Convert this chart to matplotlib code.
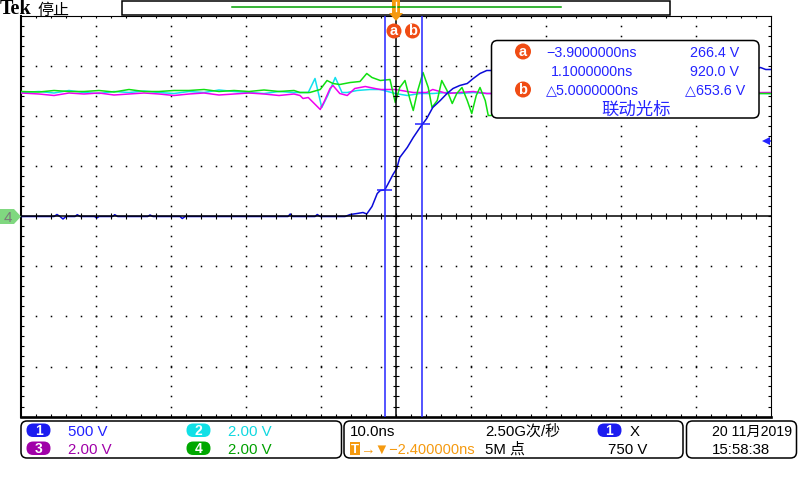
import numpy as np
import matplotlib.pyplot as plt
from matplotlib.patches import FancyBboxPatch, Circle, Polygon, Rectangle

plt.rcParams['font.family'] = ['Liberation Sans', 'DejaVu Sans', 'Noto Sans CJK SC']

# scope settings
ns_per_div = 10.0
h_pos = -2.4            # ns at screen centre
ch1_scale = 500.0       # V/div
trig_level = 750.0      # V on ch1
scale_labels = ['500 V', '2.00 V', '2.00 V', '2.00 V']
sample_rate = '2.50G次/秒'
record_len = '5M 点'
date_str = '20 11月2019'
time_str = '15:58:38'

# cursors: (time ns, ch1 volts)
cur_a = (-3.9, 266.4)
cur_b = (1.1, 920.0)

# shared time points for the flat noisy part
noise_t = [-52.4, -50, -48, -46, -44, -42, -40, -38, -36, -34,
           -32, -30, -28, -26, -24, -22, -20, -18, -16]

# ch1 (blue), volts
ch1_t = [-52.4, -48.0, -47.6, -47.2, -46.8, -46.4, -45.2, -44.9, -44.5, -42.6,
         -42.3, -42.0, -40.2, -39.9, -39.5, -35.5, -35.2, -34.8, -31.2, -30.9,
         -30.5, -16.8, -16.5, -16.2, -13.2, -12.9, -12.5, -9.2, -8.5, -7.6,
         -6.8, -6.3, -5.6, -4.9, -4.5, -3.9, -3.5, -2.8, -2.3, -1.9,
         -0.9, -0.1, 0.8, 1.7, 2.5, 3.5, 4.4, 5.2, 6.1, 7.1,
         7.9, 8.8, 9.7, 10.3, 14, 25, 35, 45.5, 46.2, 46.9, 47.6]
ch1_v = [0, 0, 20, 0, -25, 0, 0, 18, 0, 0,
         -15, 0, 0, 18, 0, 0, 15, 0, 0, -20,
         0, 0, 25, 0, 0, 20, 0, 0, 20, 30,
         40, 25, 100, 230, 260, 266, 320, 420, 480, 590,
         690, 790, 890, 980, 1090, 1160, 1230, 1280, 1310, 1330,
         1380, 1430, 1460, 1460, 1470, 1480, 1470, 1470, 1490, 1470, 1470]

# ch2 (cyan), screen divisions
ch2_t = noise_t + [-15.2, -14.1, -13.2, -12.3, -11.5, -10.5, -9.6, -8.9, -7.6, -5.9,
                   -4.5, -2.5, -0.9, 0.8, 2.5, 4.4, 6.1, 7.9, 9.7, 10.3,
                   20, 30, 40, 47.6]
ch2_d = [2.48, 2.50, 2.47, 2.52, 2.48, 2.46, 2.50, 2.48, 2.51, 2.48,
         2.46, 2.50, 2.48, 2.53, 2.50, 2.48, 2.46, 2.50, 2.48,
         2.48, 2.48, 2.76, 2.18, 2.42, 2.78, 2.48, 2.48, 2.52, 2.54,
         2.54, 2.46, 2.42, 2.46, 2.46, 2.48, 2.46, 2.48, 2.46, 2.46,
         2.47, 2.46, 2.47, 2.46]

# ch3 (magenta), screen divisions
ch3_t = noise_t + [-15.2, -14.8, -14.1, -12.5, -11.9, -11.2, -10.8, -9.9, -8.9, -7.9,
                   -6.5, -5.2, -4.5, -2.5, -0.1, 1.7, 2.5, 4.4, 6.1, 7.9,
                   9.7, 10.3, 20, 30, 40, 47.6]
ch3_d = [2.47, 2.45, 2.42, 2.47, 2.45, 2.47, 2.43, 2.45, 2.47, 2.45,
         2.42, 2.45, 2.47, 2.43, 2.45, 2.47, 2.45, 2.42, 2.45,
         2.42, 2.36, 2.38, 2.14, 2.32, 2.56, 2.62, 2.46, 2.42, 2.56,
         2.60, 2.56, 2.54, 2.54, 2.48, 2.48, 2.54, 2.46, 2.48, 2.50,
         2.46, 2.46, 2.47, 2.46, 2.47, 2.48]

# ch4 (green), screen divisions
ch4_t = noise_t + [-15.2, -13.9, -12.5, -11.6, -10.8, -9.9, -8.5, -7.2, -6.3, -5.6,
                   -4.5, -3.2, -2.5, -1.9, -1.2, -0.5, -0.1, 0.5, 1.2, 1.9,
                   2.4, 3.1, 3.7, 4.4, 5.1, 5.7, 6.4, 7.1, 7.7, 8.3,
                   8.8, 9.5, 9.9, 10.3, 12, 14, 16, 20, 30, 40, 45, 47.6]
ch4_d = [2.50, 2.49, 2.52, 2.50, 2.50, 2.52, 2.49, 2.54, 2.50, 2.50,
         2.52, 2.52, 2.54, 2.50, 2.52, 2.50, 2.53, 2.50, 2.52,
         2.48, 2.48, 2.54, 2.72, 2.66, 2.64, 2.68, 2.70, 2.86, 2.78,
         2.72, 2.74, 2.28, 2.58, 2.72, 2.32, 2.12, 2.52, 2.88, 2.58,
         2.18, 2.32, 2.72, 2.52, 2.26, 2.46, 2.58, 2.32, 2.06, 2.42,
         2.58, 2.32, 2.02, 2.02, 2.40, 2.60, 2.40, 2.50, 2.48, 2.46, 2.46, 2.46]

BLUE_TR = '#0a0ad8'
BLUE = '#2424ff'
CYAN = '#10e0ee'
MAGENTA = '#f000f0'
GREEN_TR = '#10e010'
ORANGE_RED = '#f04c14'
ORANGE = '#f59a10'


def tx(t):
    return (np.asarray(t, dtype=float) - h_pos) / ns_per_div


W, H = 800, 480
fig = plt.figure(figsize=(W / 100, H / 100), dpi=100)
fig.patch.set_facecolor('white')

# main graticule: 10 x 8 divisions
ax = fig.add_axes([21 / W, 1 - 416.5 / H, 750 / W, 400 / H])
ax.set_xlim(-5, 5)
ax.set_ylim(-4, 4)
ax.set_xticks([])
ax.set_yticks([])
ax.spines['left'].set_linewidth(1.5)
ax.spines['bottom'].set_linewidth(1.9)
ax.spines['top'].set_linewidth(0.8)
ax.spines['right'].set_linewidth(0.8)

# dotted grid
for gx in [-4, -3, -2, -1, 1, 2, 3, 4]:
    ys = np.arange(-3.8, 3.81, 0.2)
    ax.plot(np.full_like(ys, gx), ys, ls='none', marker='s', ms=1.1, mew=0, color='k')
for gy in [-3, -2, -1, 1, 2, 3]:
    xs = np.arange(-4.8, 4.81, 0.2)
    ax.plot(xs, np.full_like(xs, gy), ls='none', marker='s', ms=1.1, mew=0, color='k')

# edge ticks
tk_x = np.arange(-4.8, 4.81, 0.2)
tk_y = np.arange(-3.8, 3.81, 0.2)
ax.vlines(tk_x, -4, -3.94, color='k', lw=0.8)
ax.vlines(tk_x, 3.96, 4, color='k', lw=0.8)
ax.hlines(tk_y, -5, -4.96, color='k', lw=0.8)
ax.hlines(tk_y, 4.96, 5, color='k', lw=0.8)

# traces
ax.plot(tx(ch2_t), ch2_d, color=CYAN, lw=1.1, zorder=3)
ax.plot(tx(ch3_t), ch3_d, color=MAGENTA, lw=1.1, zorder=3)
ax.plot(tx(ch4_t), ch4_d, color=GREEN_TR, lw=1.1, zorder=3)
ax.plot(tx(ch1_t), np.asarray(ch1_v) / ch1_scale, color=BLUE_TR, lw=1.1, zorder=3)

# centre cross with ticks
ax.axhline(0, color='k', lw=1.1, zorder=4)
ax.axvline(0, color='k', lw=1.1, zorder=4)
ax.vlines(tk_x, -0.06, 0.06, color='k', lw=0.8, zorder=4)
ax.hlines(tk_y, -0.035, 0.035, color='k', lw=0.8, zorder=4)

# cursors
for ct, cv in (cur_a, cur_b):
    ax.axvline(tx(ct), color=BLUE, lw=1.1, zorder=5)
    ax.hlines(cv / ch1_scale, tx(ct) - 0.1, tx(ct) + 0.1, color=BLUE, lw=1.1, zorder=5)

# trigger level marker on the right edge
ax.plot([4.93], [trig_level / ch1_scale], marker='<', ms=6, color=BLUE, mew=0, zorder=5, clip_on=False)
ax.hlines(trig_level / ch1_scale, 4.93, 5, color=BLUE, lw=1.1, zorder=5)

# overlay in screen pixels
ov = fig.add_axes([0, 0, 1, 1], zorder=5)
ov.set_xlim(0, W)
ov.set_ylim(H, 0)
ov.set_axis_off()

# header
ov.text(0, 14.5, 'Tek', fontfamily='Liberation Serif', fontweight='bold', fontsize=14.5, ha='left', va='baseline')
ov.text(37, 14.5, '停止', fontfamily=['Noto Sans CJK SC', 'DejaVu Sans'], fontsize=11.5, ha='left', va='baseline')
ov.add_patch(Rectangle((122, 0.5), 548, 14.5, fc='white', ec='k', lw=1.1))
ov.plot([232, 561], [7, 7], color='#00a000', lw=1.1)

# trigger position marker
ov.add_patch(Polygon([(392, 0), (400, 0), (400, 13), (403, 13), (396, 21), (389, 13), (392, 13)],
                     closed=True, fc=ORANGE, ec='none'))
ov.plot([396, 396], [2, 11], color='white', lw=1.0)

# cursor labels near the top
for cx, lab in ((394, 'a'), (412.5, 'b')):
    ov.add_patch(Circle((cx, 31), 7.5, fc=ORANGE_RED, ec='none'))
    ov.text(cx, 35, lab, color='white', fontsize=10.5, fontweight='bold', ha='center', va='baseline')

# channel 4 ground marker
ov.add_patch(Polygon([(0, 209), (14, 209), (21, 216.5), (14, 224), (0, 224)], closed=True,
                     fc='#80d880', ec='none'))
ov.text(7.5, 222, '4', color='#7a7a7a', fontsize=11, ha='center', va='baseline')

# cursor readout box
ov.add_patch(FancyBboxPatch((491.5, 40.5), 267.5, 77.5, boxstyle='round,pad=0,rounding_size=6',
                            fc='white', ec='k', lw=1.1))
for cy, lab in ((51.5, 'a'), (89.5, 'b')):
    ov.add_patch(Circle((523, cy), 8, fc=ORANGE_RED, ec='none'))
    ov.text(523, cy + 4.2, lab, color='white', fontsize=10.5, fontweight='bold', ha='center', va='baseline')

dt = cur_b[0] - cur_a[0]
dv = cur_b[1] - cur_a[1]
rows = [(56.7, f'{cur_a[0]:.7f}ns'.replace('-', '−'), f'{cur_a[1]:.1f} V'),
        (76.0, f'{cur_b[0]:.7f}ns', f'{cur_b[1]:.1f} V'),
        (94.3, f'△{dt:.7f}ns', f'△{dv:.1f} V')]
for by, ts, vs in rows:
    ov.text(592, by, ts, color=BLUE, fontsize=10.3, ha='center', va='baseline')
    ov.text(715, by, vs, color=BLUE, fontsize=10.3, ha='center', va='baseline')
ov.text(636, 114.5, '联动光标', color=BLUE, fontsize=12.5,
        fontfamily=['Noto Sans CJK SC', 'DejaVu Sans'], ha='center', va='baseline')

# bottom status boxes
for bx, bw in ((21, 320.5), (344, 339), (686.5, 110)):
    ov.add_patch(FancyBboxPatch((bx, 421), bw, 37, boxstyle='round,pad=0,rounding_size=6',
                                fc='white', ec='k', lw=1.1))


def pill(x, y, color, label):
    ov.add_patch(FancyBboxPatch((x, y), 24, 13.5, boxstyle='round,pad=0,rounding_size=6.7',
                                fc=color, ec='none'))
    ov.text(x + 12, y + 11.5, label, color='white', fontsize=10, fontweight='bold',
            ha='center', va='baseline')


pill_cols = ['#1c1cf0', '#10e0e6', '#a000a8', '#00a800']
text_cols = ['#2020ff', '#10d8e0', '#a000a8', '#00a000']
pos = [(26.5, 423.5, 67.5, 436), (186.5, 423.5, 228, 436),
       (26.5, 441.5, 67.5, 454), (186.5, 441.5, 228, 454)]
for i, (px, py, lx, ly) in enumerate(pos):
    pill(px, py, pill_cols[i], str(i + 1))
    ov.text(lx, ly, scale_labels[i], color=text_cols[i], fontsize=10.8, ha='left', va='baseline')

ov.text(349.5, 436, f'{ns_per_div:.1f}ns', color='k', fontsize=10.8, ha='left', va='baseline')
ov.add_patch(Rectangle((349.5, 442), 10.5, 12.5, fc=ORANGE, ec='none'))
ov.text(354.7, 452.8, 'T', color='white', fontsize=9.5, fontweight='bold', ha='center', va='baseline')
ov.text(360.5, 454, f'→▼{h_pos:.6f}ns'.replace('-', '−'), color=ORANGE, fontsize=10.5,
        ha='left', va='baseline')
ov.text(485, 436, sample_rate, color='k', fontsize=10.8, ha='left', va='baseline')
ov.text(485, 454, record_len, color='k', fontsize=10.8, ha='left', va='baseline')
pill(597.5, 423.5, '#1c1cf0', '1')
ov.text(630, 436, 'X', color='k', fontsize=10.8, ha='left', va='baseline')
ov.text(608.5, 454, f'{trig_level:.0f} V', color='k', fontsize=10.8, ha='left', va='baseline')
ov.text(711.5, 436, date_str, color='k', fontsize=10.2, ha='left', va='baseline')
ov.text(711.5, 454, time_str, color='k', fontsize=10.8, ha='left', va='baseline')

fig.savefig('out.png', dpi=100, facecolor='white')
